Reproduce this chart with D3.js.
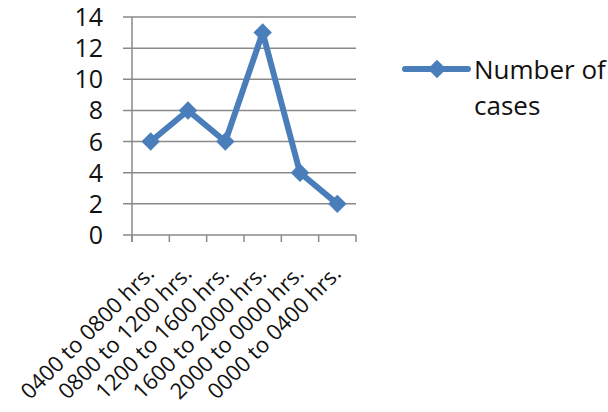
<!DOCTYPE html>
<html><head><meta charset="utf-8">
<script src="https://cdn.jsdelivr.net/npm/d3@7"></script>
<style>body{margin:0;background:#fff}svg{display:block}text{font-family:"Open Sans",Lato,sans-serif;fill:#111}</style>
</head><body>
<svg id="c" width="608" height="412"></svg>
<script>
const categories = ["0400 to 0800 hrs.","0800 to 1200 hrs.","1200 to 1600 hrs.","1600 to 2000 hrs.","2000 to 0000 hrs.","0000 to 0400 hrs."];
const values = [6, 8, 6, 13, 4, 2];
const yTicks = [0, 2, 4, 6, 8, 10, 12, 14];
const seriesName = ["Number of", "cases"];

const svg = d3.select("#c");
const pLeft = 132, pRight = 356, pTop = 17, pBottom = 235;
const color = "#4a7ebb";
const x = d3.scaleBand().domain(categories).range([pLeft, pRight]).padding(0);
const y = d3.scaleLinear().domain([0, 14]).range([pBottom, pTop]);

// gridlines
svg.append("g").selectAll("line").data(yTicks).join("line")
  .attr("x1", pLeft - 9).attr("x2", pRight).attr("y1", d => y(d)).attr("y2", d => y(d))
  .attr("stroke", "#8a8a8a").attr("stroke-width", 1.5);
// y axis line
svg.append("line").attr("x1", pLeft).attr("x2", pLeft).attr("y1", pTop).attr("y2", pBottom + 7)
  .attr("stroke", "#8a8a8a").attr("stroke-width", 1.5);
// x ticks
const xt = categories.map(c => x(c)).concat([pRight]);
svg.append("g").selectAll("line").data(xt).join("line")
  .attr("x1", d => d).attr("x2", d => d).attr("y1", pBottom).attr("y2", pBottom + 7)
  .attr("stroke", "#8a8a8a").attr("stroke-width", 1.5);
// y labels
svg.append("g").selectAll("text").data(yTicks).join("text")
  .attr("x", 103).attr("y", d => y(d) + 9).attr("text-anchor", "end")
  .attr("font-size", 25).text(d => d);
// x labels
svg.append("g").selectAll("text").data(categories).join("text")
  .attr("transform", d => `translate(${x(d) + x.bandwidth()/2 + 5},${pBottom + 40}) rotate(-45)`)
  .attr("text-anchor", "end").attr("font-size", 22).text(d => d);

// line
const line = d3.line().x((d, i) => x(categories[i]) + x.bandwidth()/2).y(d => y(d));
svg.append("path").datum(values).attr("d", line).attr("fill", "none")
  .attr("stroke", color).attr("stroke-width", 6).attr("stroke-linejoin", "round");
const diamond = d3.symbol().type(d3.symbolSquare).size(170);
svg.append("g").selectAll("path").data(values).join("path")
  .attr("d", diamond())
  .attr("transform", (d, i) => `translate(${x(categories[i]) + x.bandwidth()/2},${y(d)}) rotate(45)`)
  .attr("fill", color);

// legend
const lg = svg.append("g");
lg.append("line").attr("x1", 405).attr("x2", 468).attr("y1", 69).attr("y2", 69)
  .attr("stroke", color).attr("stroke-width", 6).attr("stroke-linecap", "round");
lg.append("path").attr("d", diamond()).attr("transform", "translate(437,69) rotate(45)").attr("fill", color);
lg.selectAll("text").data(seriesName).join("text")
  .attr("x", 474).attr("y", (d, i) => 79 + i * 36).attr("font-size", 26).text(d => d);
</script>
</body></html>
